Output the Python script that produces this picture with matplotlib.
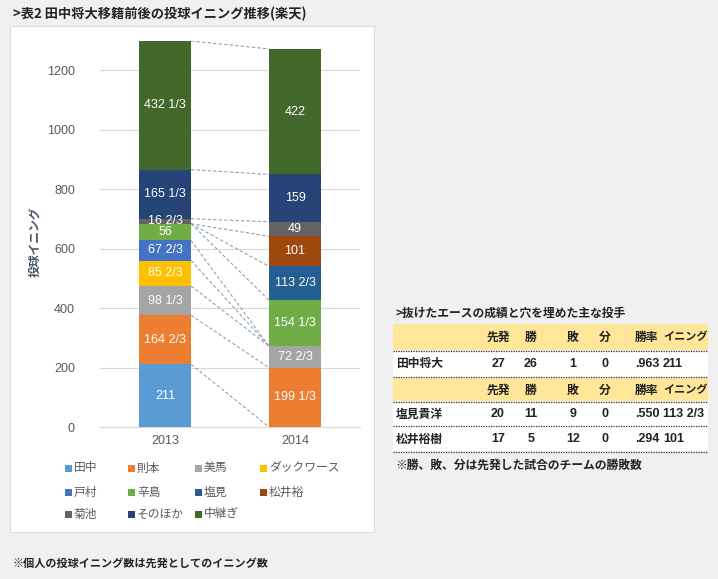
import numpy as np
import matplotlib
matplotlib.use("Agg")
import matplotlib.pyplot as plt
from matplotlib.patches import Rectangle

plt.rcParams["font.family"] = ["Noto Sans CJK JP", "DejaVu Sans"]

# データ
years = ["2013", "2014"]
names = ["田中", "則本", "美馬", "ダックワース", "戸村", "辛島", "塩見", "松井裕", "菊池", "そのほか", "中継ぎ"]
v2013 = [211, 164 + 2 / 3, 98 + 1 / 3, 85 + 2 / 3, 67 + 2 / 3, 56, 0, 0, 16 + 2 / 3, 165 + 1 / 3, 432 + 1 / 3]
v2014 = [0, 199 + 1 / 3, 72 + 2 / 3, 0, 0, 154 + 1 / 3, 113 + 2 / 3, 101, 49, 159, 422]
lab2013 = ["211", "164 2/3", "98 1/3", "85 2/3", "67 2/3", "56", "", "", "16 2/3", "165 1/3", "432 1/3"]
lab2014 = ["", "199 1/3", "72 2/3", "", "", "154 1/3", "113 2/3", "101", "49", "159", "422"]
colors = ["#5B9BD5", "#ED7D31", "#A5A5A5", "#FFC000", "#4472C4", "#70AD47",
          "#255E91", "#9E480E", "#636363", "#264478", "#43682B"]

# 表のデータ
tbl_title = ">抜けたエースの成績と穴を埋めた主な投手"
tbl_header = ["先発", "勝", "敗", "分", "勝率", "イニング"]
tanaka = ["田中将大", "27", "26", "1", "0", ".963", "211"]
shiomi = ["塩見貴洋", "20", "11", "9", "0", ".550", "113 2/3"]
matsui = ["松井裕樹", "17", "5", "12", "0", ".294", "101"]

W, H = 718, 579
fx = lambda px: px / W
fy = lambda py: 1 - py / H

fig = plt.figure(figsize=(W / 100, H / 100), dpi=100)
fig.patch.set_facecolor("#F0F0F0")

# 白いパネル
fig.patches.append(Rectangle((fx(10), fy(532)), fx(374) - fx(10), fy(26) - fy(532),
                             transform=fig.transFigure, facecolor="white",
                             edgecolor="#DDDDDD", lw=0.8, zorder=-5))

ax = fig.add_axes([fx(100), fy(427), fx(360) - fx(100), fy(41) - fy(427)])
ax.set_facecolor("none")
x = np.arange(len(years))
bw = 0.4
bottom = np.zeros(2)
tops = []
for i, n in enumerate(names):
    vals = np.array([v2013[i], v2014[i]])
    ax.bar(x, vals, bw, bottom=bottom, color=colors[i], zorder=3)
    for j, lab in enumerate([lab2013[i], lab2014[i]]):
        if lab:
            ax.text(x[j], bottom[j] + vals[j] / 2, lab, ha="center", va="center",
                    color="white", fontsize=9, family=["Liberation Sans"], zorder=4)
    bottom = bottom + vals
    tops.append(bottom.copy())

# 系列線
for t in tops:
    ax.plot([x[0] + bw / 2, x[1] - bw / 2], t, ls=(0, (3, 2)), color="#8EA0B8", lw=0.8, zorder=2)

ax.set_xlim(-0.5, 1.5)
ax.set_ylim(0, tops[-1][0])
ax.set_yticks(range(0, 1201, 200))
ax.set_xticks(x)
ax.set_xticklabels(years)
ax.grid(axis="y", color="#D9D9D9", lw=0.8, zorder=0)
for s in ["top", "right", "left"]:
    ax.spines[s].set_visible(False)
ax.spines["bottom"].set_color("#D9D9D9")
ax.tick_params(axis="y", length=0, pad=18, labelsize=9, labelcolor="#595959")
ax.tick_params(axis="x", length=0, pad=6, labelsize=9, labelcolor="#595959")
for lb in ax.get_xticklabels() + ax.get_yticklabels():
    lb.set_family(["Liberation Sans"])
fig.text(fx(35), fy(242), "投球イニング", rotation=90, ha="center", va="center",
         fontsize=8.5, color="#44546A", fontweight="bold")

# 凡例
leg_x = [68, 131, 198, 263]
leg_y = [468, 492, 514]
for i, n in enumerate(names):
    px = leg_x[i % 4]
    py = leg_y[i // 4]
    fig.patches.append(Rectangle((fx(px - 3), fy(py + 3.5)), fx(7), 7 / H,
                                 transform=fig.transFigure, facecolor=colors[i], lw=0))
    fig.text(fx(px + 6), fy(py), n, ha="left", va="center", fontsize=8.5, color="#595959")

# タイトルと注記
fig.text(fx(13), fy(14), ">表2 田中将大移籍前後の投球イニング推移(楽天)", ha="left", va="center",
         fontsize=9.5, fontweight="bold", color="#222222")
fig.text(fx(13), fy(563), "※個人の投球イニング数は先発としてのイニング数", ha="left", va="center",
         fontsize=8, fontweight="bold", color="#222222")

# 右の表
tx0, tx1 = 393, 708
col_x = [498, 531, 573, 605, 635, 663]
col_ha = ["center", "center", "center", "center", "left", "left"]
fig.text(fx(395), fy(313), tbl_title, ha="left", va="center", fontsize=8.5,
         fontweight="bold", color="#222222")


def band(y0, y1, fc):
    fig.patches.append(Rectangle((fx(tx0), fy(y1)), fx(tx1) - fx(tx0), fy(y0) - fy(y1),
                                 transform=fig.transFigure, facecolor=fc, lw=0, zorder=-5))


def dots(py):
    fig.add_artist(plt.Line2D([fx(tx0), fx(tx1)], [fy(py), fy(py)], transform=fig.transFigure,
                              color="#333333", lw=0.9, ls=(0, (1, 1))))


def row(py, cells, name=None):
    if name:
        fig.text(fx(396), fy(py), name, ha="left", va="center", fontsize=8.5,
                 fontweight="bold", color="#222222")
    for k, c in enumerate(cells):
        if c[0].isdigit() or c[0] == ".":
            fam = ["Liberation Sans"]
            sz = 9
        else:
            fam = ["Noto Sans CJK JP"]
            sz = 8.5 if k < 5 else 8
        fig.text(fx(col_x[k]), fy(py), c, ha=col_ha[k], va="center", fontsize=sz,
                 fontweight="bold", color="#222222", family=fam)


band(324, 350, "#FFE699")
row(337, tbl_header)
dots(351)
band(352, 377, "white")
row(364, tanaka[1:], tanaka[0])
dots(377)
band(378, 401, "#FFE699")
row(390, tbl_header)
dots(402)
band(403, 451, "white")
row(414, shiomi[1:], shiomi[0])
dots(426)
row(439, matsui[1:], matsui[0])
dots(452)
fig.text(fx(395), fy(465), "※勝、敗、分は先発した試合のチームの勝敗数", ha="left", va="center",
         fontsize=8.5, fontweight="bold", color="#222222")

fig.savefig("out.png", dpi=100, facecolor=fig.get_facecolor())
